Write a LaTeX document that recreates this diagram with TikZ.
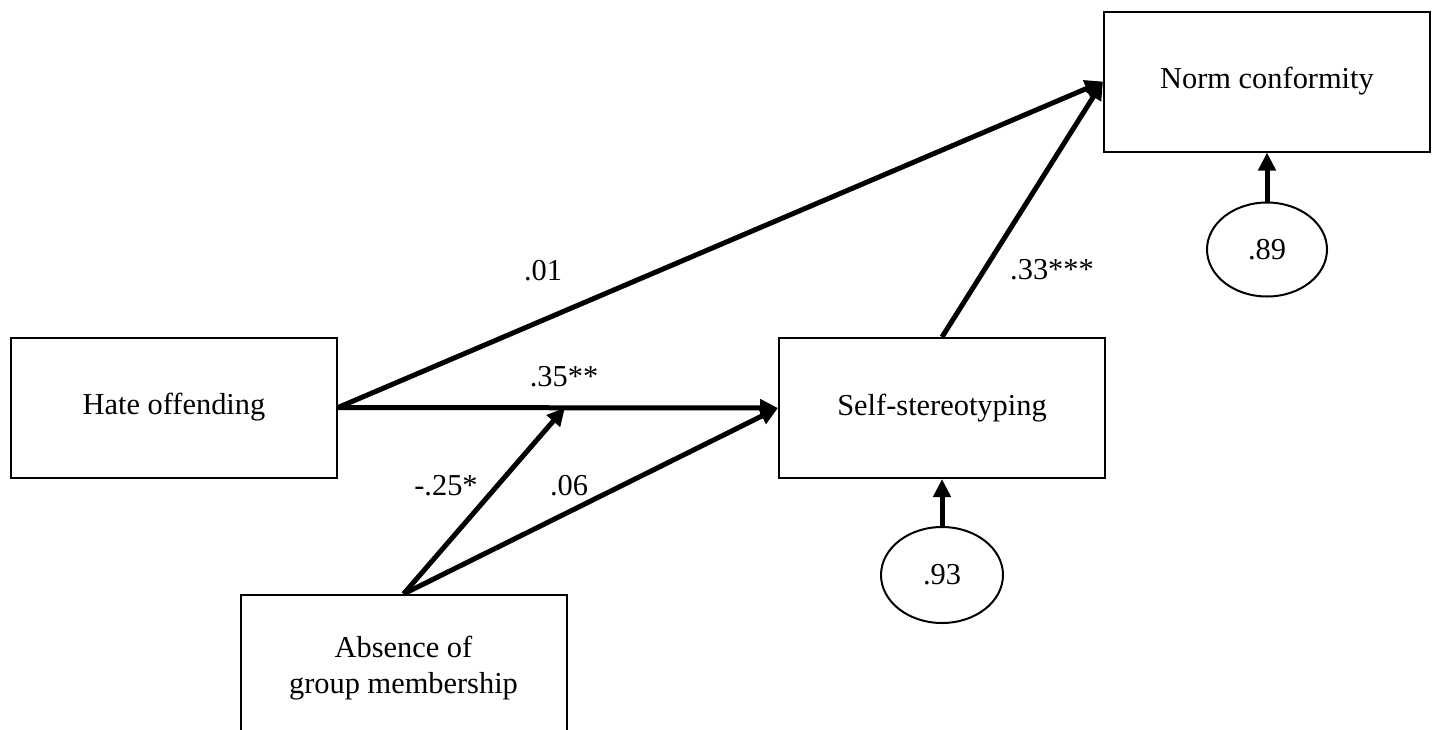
\documentclass[tikz,border=0pt]{standalone}
\usepackage{fontspec}
\setmainfont{Liberation Serif}
\usetikzlibrary{arrows.meta,shapes.geometric}

\tikzset{
  varbox/.style={draw, line width=1pt, minimum width=163pt, minimum height=70pt, inner sep=0pt, align=center},
  errnode/.style={draw, ellipse, line width=1pt, minimum width=60pt, minimum height=47pt, inner sep=0pt},
  path/.style={line width=2.5pt, -{Triangle[length=9pt,width=8.5pt]}},
  coef/.style={inner sep=0.75pt}
}

\begin{document}
\begin{tikzpicture}[x=0.5pt,y=0.5pt,yscale=-1,xscale=1,font=\fontsize{15.2pt}{18pt}\selectfont]
    \useasboundingbox (0,0) rectangle (1434,729);

    %Shape: Rectangle [id:hate]
    \node [varbox] (hate) at (174,407.5) {Hate offending};
    %Shape: Rectangle [id:self]
    \node [varbox] (self) at (942,408) {Self-stereotyping};
    %Shape: Rectangle [id:norm]
    \node [varbox] (norm) at (1267,81.5) {Norm conformity};
    %Shape: Rectangle [id:absence]
    \node [varbox, minimum height=73pt] (absence) at (403.5,668) {Absence of\\group membership};
    %Shape: Ellipse [id:err89]
    \node [errnode] (err89) at (1267,249.5) {.89};
    %Shape: Ellipse [id:err93]
    \node [errnode, minimum width=61pt, minimum height=48pt] (err93) at (942,575) {.93};

    \coordinate (mod) at (565,407.5);

    %Straight Lines [id:hate-norm]
    \draw [path] (hate.east) -- (norm.west);
    %Straight Lines [id:hate-self]
    \draw [path] (hate.east) -- (self.west);
    %Straight Lines [id:self-norm]
    \draw [path] (self.north) -- (norm.west);
    %Straight Lines [id:absence-mod]
    \draw [path] (absence.north) -- (mod);
    %Straight Lines [id:absence-self]
    \draw [path] (absence.north) -- (self.west);
    %Straight Lines [id:err89-norm]
    \draw [path] (err89.north) -- (norm.south);
    %Straight Lines [id:err93-self]
    \draw [path] (err93.north) -- (self.south);

    % Text Node
    \node [coef] (c01) at (543,271) {.01};
    % Text Node
    \node [coef] (c35) at (564,377) {.35**};
    % Text Node
    \node [coef] (c33) at (1052,270) {.33***};
    % Text Node
    \node [coef] (c25) at (446,486) {-.25*};
    % Text Node
    \node [coef] (c06) at (569,486) {.06};

\end{tikzpicture}
\end{document}
